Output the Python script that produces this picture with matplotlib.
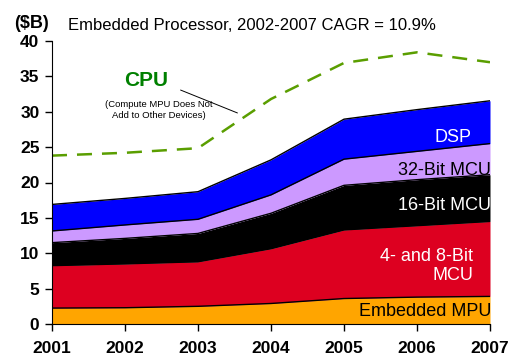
import matplotlib
matplotlib.use("Agg")
import matplotlib.pyplot as plt
import numpy as np

years = [2001, 2002, 2003, 2004, 2005, 2006, 2007]
embedded_mpu = [2.25, 2.3, 2.5, 2.9, 3.6, 3.8, 3.9]
mcu_4_8 = [6.0, 6.2, 6.3, 7.75, 9.7, 10.1, 10.6]
mcu_16 = [3.25, 3.6, 4.0, 5.0, 6.3, 6.5, 6.6]
mcu_32 = [1.65, 1.9, 2.0, 2.6, 3.7, 4.0, 4.4]
dsp = [3.75, 3.75, 3.9, 4.95, 5.65, 5.9, 6.05]
cpu = [23.8, 24.2, 24.85, 31.8, 36.9, 38.4, 37.0]
yticks = [0, 5, 10, 15, 20, 25, 30, 35, 40]

plt.rcParams['font.family'] = ['Liberation Sans', 'DejaVu Sans']
fig = plt.figure(figsize=(5.32, 3.62), dpi=100)
ax = fig.add_axes([52/532, 1-324/362, 438/532, 283/362])

series = [embedded_mpu, mcu_4_8, mcu_16, mcu_32, dsp]
colors = ['#FFA500', '#DD0020', '#000000', '#CC99FF', '#0000FF']
base = np.zeros(len(years))
for vals, c in zip(series, colors):
    top = base + np.array(vals)
    ax.fill_between(years, base, top, color=c, linewidth=0)
    ax.plot(years, top, color='black', linewidth=1)
    base = top

ax.plot(years, cpu, color='#5A9E00', linewidth=1.8, dashes=(6, 4))

ax.set_xlim(2001, 2007)
ax.set_ylim(0, 40)
ax.set_xticks(years)
ax.set_yticks(yticks)
ax.tick_params(axis='both', direction='out', length=5, width=1, labelsize=12.5)
for lab in ax.get_xticklabels() + ax.get_yticklabels():
    lab.set_fontweight('bold')
ax.tick_params(axis='x', pad=7)
ax.tick_params(axis='y', pad=4)
ax.spines['top'].set_visible(False)
ax.spines['right'].set_visible(False)

fig.text(14/532, 1-24/362, '($B)', fontsize=13, fontweight='bold', va='center', ha='left')
fig.text(68/532, 1-26/362, 'Embedded Processor, 2002-2007 CAGR = 10.9%', fontsize=12, va='center', ha='left')

fig.text(146/532, 1-80/362, 'CPU', fontsize=15, fontweight='bold', color='#008000', ha='center', va='center')
fig.text(159/532, 1-110/362, '(Compute MPU Does Not\nAdd to Other Devices)', fontsize=6.8, ha='center', va='center', linespacing=1.2)
ax.annotate('', xy=(240/532, 1-114/362), xytext=(178/532, 1-89/362),
            xycoords='figure fraction', textcoords='figure fraction',
            arrowprops=dict(arrowstyle='-', color='black', lw=0.7))

fig.text(453/532, 1-137/362, 'DSP', fontsize=13, color='white', ha='center', va='center')
fig.text(444/532, 1-171/362, '32-Bit MCU', fontsize=13, color='black', ha='center', va='center')
fig.text(445/532, 1-205/362, '16-Bit MCU', fontsize=13, color='white', ha='center', va='center')
fig.text(473/532, 1-266/362, '4- and 8-Bit\nMCU', fontsize=13, color='white', ha='right', va='center', linespacing=1.2)
fig.text(425/532, 1-312/362, 'Embedded MPU', fontsize=13, color='black', ha='center', va='center')

fig.savefig('out.png', dpi=100)
